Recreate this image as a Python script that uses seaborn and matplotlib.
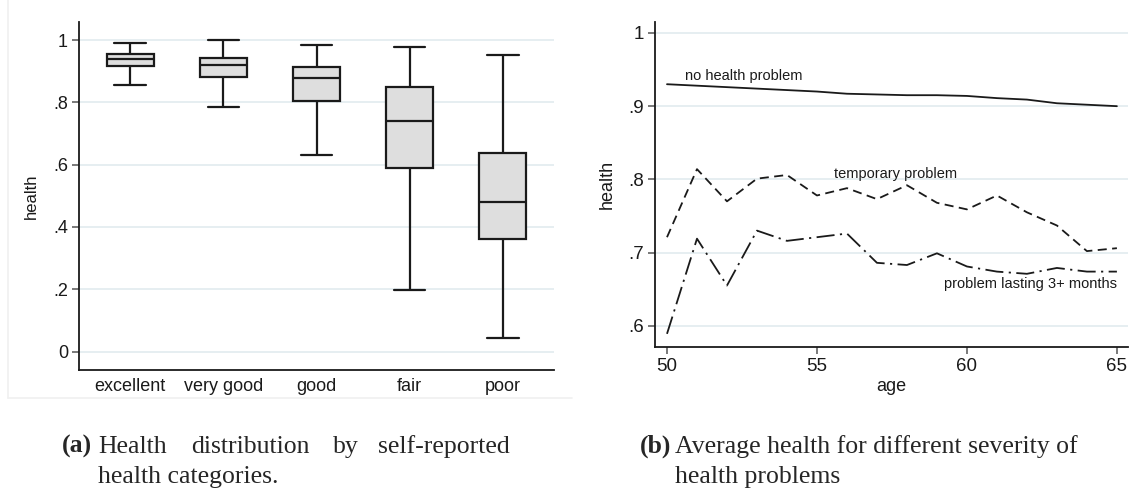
import numpy as np
import pandas as pd
import matplotlib
matplotlib.use("Agg")
import matplotlib.pyplot as plt
from matplotlib.lines import Line2D
import seaborn as sns

# ---------------- data ----------------
categories = ["excellent", "very good", "good", "fair", "poor"]
whisk_low = [0.855, 0.784, 0.631, 0.197, 0.043]
q1 = [0.918, 0.881, 0.804, 0.589, 0.362]
median = [0.940, 0.920, 0.878, 0.740, 0.480]
q3 = [0.956, 0.941, 0.913, 0.849, 0.637]
whisk_high = [0.991, 1.000, 0.985, 0.979, 0.951]

ages = list(range(50, 66))
no_problem = [0.930, 0.928, 0.926, 0.924, 0.922, 0.920, 0.917, 0.916,
              0.915, 0.915, 0.914, 0.911, 0.909, 0.904, 0.902, 0.900]
temporary = [0.721, 0.814, 0.770, 0.801, 0.806, 0.778, 0.788, 0.773,
             0.792, 0.768, 0.759, 0.778, 0.755, 0.737, 0.702, 0.706]
lasting = [0.589, 0.719, 0.655, 0.730, 0.716, 0.721, 0.726, 0.686,
           0.683, 0.699, 0.681, 0.674, 0.671, 0.679, 0.674, 0.674]
series_names = ["no health problem", "temporary problem", "problem lasting 3+ months"]

left_yticks = [0, 0.2, 0.4, 0.6, 0.8, 1.0]
left_yticklabels = ["0", ".2", ".4", ".6", ".8", "1"]
right_yticks = [0.6, 0.7, 0.8, 0.9, 1.0]
right_yticklabels = [".6", ".7", ".8", ".9", "1"]
right_xticks = [50, 55, 60, 65]

caption_a = ["Health", "distribution", "by", "self-reported"]
caption_a2 = "health categories."
caption_b1 = "Average health for different severity of"
caption_b2 = "health problems"

# ---------------- style ----------------
sns.set_theme(style="white")
plt.rcParams["font.family"] = ["Liberation Sans", "DejaVu Sans"]
GRID = "#e4edf0"
INK = "#1a1a1a"

W, H = 1132, 493
fig = plt.figure(figsize=(W / 100, H / 100), dpi=100)

def fx(px):
    return px / W

def fy(py):
    return 1 - py / H

# ---------------- left panel: boxplot ----------------
rows = []
for c, a, b, m, d, e in zip(categories, whisk_low, q1, median, q3, whisk_high):
    for v in (a, b, m, d, e):
        rows.append({"category": c, "health": v})
df_box = pd.DataFrame(rows)

ax1 = fig.add_axes([fx(79), fy(370), fx(554) - fx(79), fy(22) - fy(370)])
for yv in left_yticks:
    ax1.axhline(yv, color=GRID, lw=1.3, zorder=0)
sns.boxplot(data=df_box, x="category", y="health", order=categories,
            whis=(0, 100), width=0.5, color="#dedede", linecolor=INK,
            linewidth=1.6, ax=ax1, zorder=3)
# widen whisker caps (Stata style caps ~2/3 of the box width)
for ln in ax1.lines:
    xd = np.asarray(ln.get_xdata(), dtype=float)
    yd = np.asarray(ln.get_ydata(), dtype=float)
    if len(xd) == 2 and yd[0] == yd[1]:
        span = abs(xd[1] - xd[0])
        if 0.05 < span < 0.4:
            c = xd.mean()
            ln.set_xdata([c - 0.17, c + 0.17])
ax1.set_xlim(-0.55, 4.55)
ax1.set_ylim(-0.059, 1.058)
ax1.set_yticks(left_yticks)
ax1.set_yticklabels(left_yticklabels)
ax1.set_xlabel("")
ax1.set_ylabel("health", fontsize=12, color=INK, labelpad=10)
ax1.tick_params(axis="y", length=5, width=1.1, color="#555555",
                labelsize=13, labelcolor=INK, pad=3, left=True)
ax1.tick_params(axis="x", length=0, labelsize=13, labelcolor=INK, pad=6)
for s in ("top", "right"):
    ax1.spines[s].set_visible(False)
for s in ("left", "bottom"):
    ax1.spines[s].set_color(INK)
    ax1.spines[s].set_linewidth(1.3)

# ---------------- right panel: lines ----------------
df_line = pd.DataFrame({
    "age": ages * 3,
    "health": no_problem + temporary + lasting,
    "series": [series_names[0]] * len(ages) + [series_names[1]] * len(ages)
              + [series_names[2]] * len(ages),
})
ax2 = fig.add_axes([fx(655), fy(347), fx(1128) - fx(655), fy(22) - fy(347)])
for yv in right_yticks:
    ax2.axhline(yv, color=GRID, lw=1.3, zorder=0)
sns.lineplot(data=df_line, x="age", y="health", hue="series", style="series",
             palette={n: INK for n in series_names},
             dashes={series_names[0]: "", series_names[1]: (5, 3),
                     series_names[2]: (10, 3, 1.2, 3)},
             linewidth=1.3, legend=False, ax=ax2, zorder=3)
ax2.set_xlim(49.6, 65.37)
ax2.set_ylim(0.571, 1.015)
ax2.set_xticks(right_xticks)
ax2.set_yticks(right_yticks)
ax2.set_yticklabels(right_yticklabels)
ax2.set_xlabel("age", fontsize=13, color=INK, labelpad=2)
ax2.set_ylabel("health", fontsize=13, color=INK, labelpad=9)
ax2.tick_params(axis="both", length=5, width=1.1, color="#555555",
                labelsize=13.5, labelcolor=INK, pad=3, left=True, bottom=True)
for s in ("top", "right"):
    ax2.spines[s].set_visible(False)
for s in ("left", "bottom"):
    ax2.spines[s].set_color(INK)
    ax2.spines[s].set_linewidth(1.3)

ax2.text(50.6, 0.941, series_names[0], fontsize=10.5, color=INK, va="center", ha="left")
ax2.text(55.58, 0.808, series_names[1], fontsize=10.5, color=INK, va="center", ha="left")
ax2.text(59.24, 0.657, series_names[2], fontsize=10.5, color=INK, va="center", ha="left")

# faint graph-region frame of left panel
fig.add_artist(Line2D([fx(8), fx(8)], [fy(0), fy(398)], color="#f0f0f0", lw=1.2))
fig.add_artist(Line2D([fx(8), fx(572)], [fy(398), fy(398)], color="#f0f0f0", lw=1.2))

# ---------------- captions ----------------
serif = ["Liberation Serif", "DejaVu Serif"]
cs = 18.5
fig.text(fx(62), fy(453), "(a)", fontsize=cs, fontweight="bold", family=serif, va="baseline")
for word, xp in zip(caption_a, [98, 191, 333, 378]):
    fig.text(fx(xp), fy(453), word, fontsize=cs, family=serif, va="baseline")
fig.text(fx(98), fy(483), caption_a2, fontsize=cs, family=serif, va="baseline")
fig.text(fx(640), fy(453), "(b)", fontsize=cs, fontweight="bold", family=serif, va="baseline")
fig.text(fx(675), fy(453), caption_b1, fontsize=cs, family=serif, va="baseline")
fig.text(fx(675), fy(483), caption_b2, fontsize=cs, family=serif, va="baseline")

fig.savefig("out.png", dpi=100)
